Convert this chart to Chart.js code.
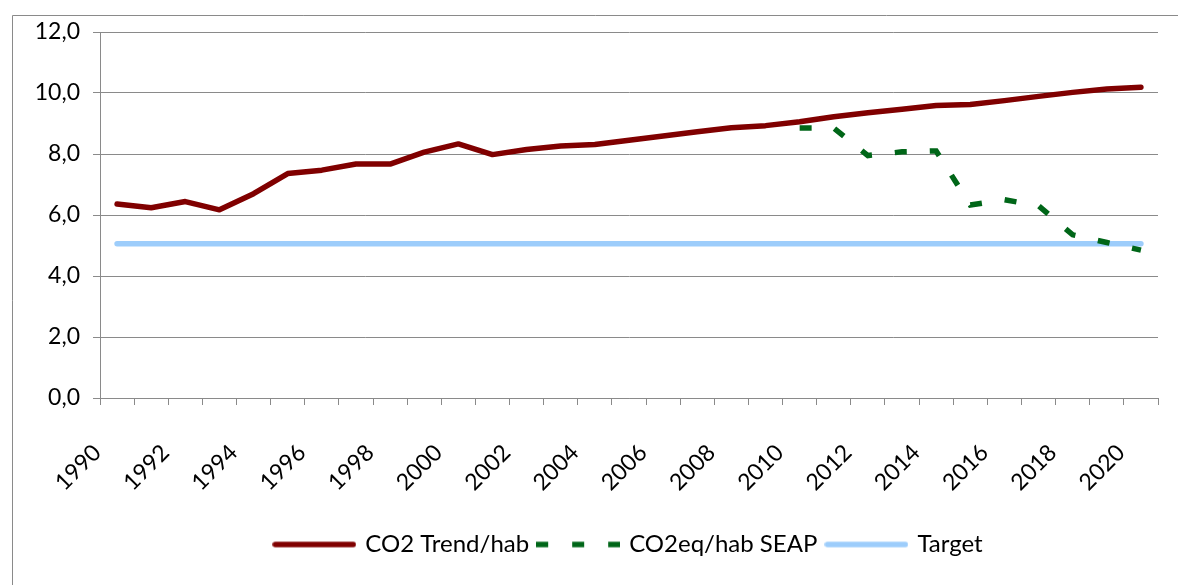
<!DOCTYPE html>
<html>
<head>
<meta charset="utf-8">
<script src="https://cdn.jsdelivr.net/npm/chart.js@4.4.0/dist/chart.umd.min.js"></script>
<style>
html, body { margin: 0; padding: 0; background: #fff; }
#wrap { position: relative; width: 1178px; height: 585px; }
</style>
</head>
<body>
<div id="wrap"><canvas id="co2Chart"></canvas></div>
<script>
// categories (years)
const years = ['1990', '1991', '1992', '1993', '1994', '1995', '1996', '1997', '1998', '1999',
               '2000', '2001', '2002', '2003', '2004', '2005', '2006', '2007', '2008', '2009',
               '2010', '2011', '2012', '2013', '2014', '2015', '2016', '2017', '2018', '2019', '2020'];

// CO2 trend per inhabitant
const co2Trend = [6.36, 6.24, 6.44, 6.17, 6.70, 7.36, 7.47, 7.67, 7.67, 8.06,
                  8.33, 7.98, 8.15, 8.26, 8.31, 8.45, 8.59, 8.73, 8.86, 8.93,
                  9.06, 9.22, 9.35, 9.47, 9.59, 9.62, 9.75, 9.89, 10.02, 10.13, 10.19];

// SEAP scenario, only from 2010
const co2eqSeap = [null, null, null, null, null, null, null, null, null, null,
                   null, null, null, null, null, null, null, null, null, null,
                   8.85, 8.85, 7.95, 8.07, 8.10, 6.33, 6.50, 6.30, 5.35, 5.10, 4.85];

// target line
const target = [5.06, 5.06, 5.06, 5.06, 5.06, 5.06, 5.06, 5.06, 5.06, 5.06,
                5.06, 5.06, 5.06, 5.06, 5.06, 5.06, 5.06, 5.06, 5.06, 5.06,
                5.06, 5.06, 5.06, 5.06, 5.06, 5.06, 5.06, 5.06, 5.06, 5.06, 5.06];

const yTicks = { min: 0, max: 12, step: 2 };

const RED = '#800000';
const GREEN = '#006618';
const BLUE = '#9dcdfb';

Chart.defaults.font.family = 'Lato, "Open Sans", sans-serif';
Chart.defaults.color = '#000';

// small canvas used as the legend sample (so the dash shows in the legend)
function legendSample(color, dash, cap) {
    const c = document.createElement('canvas');
    c.width = 84;
    c.height = 8;
    const g = c.getContext('2d');
    g.strokeStyle = color;
    g.lineWidth = 5.5;
    g.lineCap = cap;
    g.setLineDash(dash);
    g.beginPath();
    const inset = cap === 'round' ? 3 : 0;
    g.moveTo(inset, 4);
    g.lineTo(84 - inset, 4);
    g.stroke();
    return c;
}

// outer frame of the chart object
const framePlugin = {
    id: 'frame',
    beforeDraw(chart) {
        const ctx = chart.ctx;
        ctx.save();
        ctx.strokeStyle = '#8a8a8a';
        ctx.lineWidth = 1;
        ctx.beginPath();
        ctx.moveTo(12.5, chart.height);
        ctx.lineTo(12.5, 15.5);
        ctx.lineTo(chart.width, 15.5);
        ctx.stroke();
        ctx.restore();
    }
};

const ctx = document.getElementById('co2Chart').getContext('2d');
new Chart(ctx, {
    type: 'line',
    data: {
        labels: years,
        datasets: [
            {
                label: 'CO2 Trend/hab',
                data: co2Trend,
                borderColor: RED,
                backgroundColor: RED,
                borderWidth: 5.5,
                borderCapStyle: 'round',
                borderJoinStyle: 'round',
                pointRadius: 0,
                pointStyle: legendSample(RED, [], 'round'),
                tension: 0
            },
            {
                label: 'CO2eq/hab SEAP',
                data: co2eqSeap,
                borderColor: GREEN,
                backgroundColor: GREEN,
                borderWidth: 5.5,
                borderDash: [12, 23],
                borderCapStyle: 'butt',
                pointRadius: 0,
                pointStyle: legendSample(GREEN, [12, 24], 'butt'),
                tension: 0
            },
            {
                label: 'Target',
                data: target,
                borderColor: BLUE,
                backgroundColor: BLUE,
                borderWidth: 5.5,
                borderCapStyle: 'round',
                pointRadius: 0,
                pointStyle: legendSample(BLUE, [], 'round'),
                tension: 0
            }
        ]
    },
    options: {
        responsive: true,
        maintainAspectRatio: false,
        animation: false,
        layout: { padding: { top: 32, right: 20, left: 0, bottom: 18.5 } },
        scales: {
            x: {
                offset: true,
                grid: { offset: true, drawOnChartArea: false, drawTicks: true, tickLength: 7, color: '#8a8a8a' },
                border: { color: '#8a8a8a' },
                ticks: {
                    autoSkip: false,
                    minRotation: 45,
                    maxRotation: 45,
                    padding: 34,
                    labelOffset: -20,
                    font: { size: 23 },
                    callback: function(val, i) {
                        return i % 2 === 0 ? this.getLabelForValue(val) : '';
                    }
                },
                afterFit: function(scale) {
                    scale.height = 124.5;
                    scale.paddingLeft = 0;
                    scale.paddingRight = 0;
                }
            },
            y: {
                min: yTicks.min,
                max: yTicks.max,
                grid: { color: '#8a8a8a', tickLength: 7 },
                border: { color: '#8a8a8a' },
                ticks: {
                    stepSize: yTicks.step,
                    padding: 13,
                    font: { size: 23 },
                    callback: v => v.toFixed(1).replace('.', ',')
                },
                afterFit: function(scale) { scale.width = 100; }
            }
        },
        plugins: {
            legend: {
                position: 'bottom',
                fullSize: false,
                labels: {
                    usePointStyle: true,
                    pointStyleWidth: 78,
                    padding: 10,
                    font: { size: 24 }
                }
            },
            tooltip: { enabled: false }
        }
    },
    plugins: [framePlugin]
});
</script>
</body>
</html>
